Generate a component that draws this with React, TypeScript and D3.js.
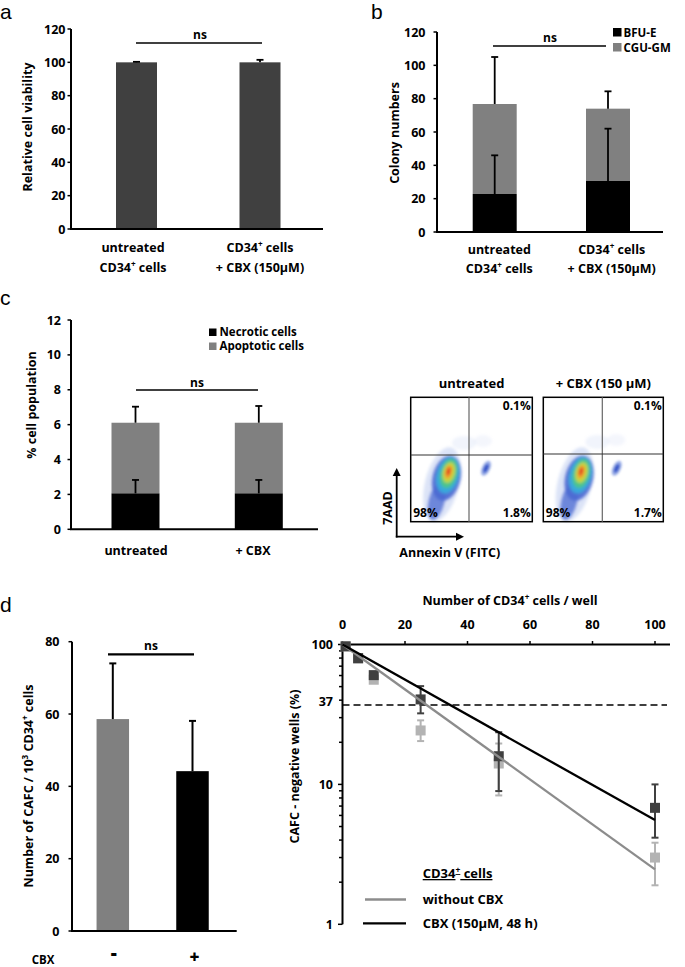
import React from 'react';
import * as d3 from 'd3';

const FONT = "'Open Sans', 'Noto Sans', sans-serif";
const LETTER_FONT = "'Liberation Sans', Arial, sans-serif";

// ---------- Panel a ----------
const aCategories = [["untreated", "CD34^{+} cells"], ["CD34^{+} cells", "+ CBX (150µM)"]];
const aViability = [100, 100];
const aViabilityErr = [0.3, 1.5];
const aTicks = [0, 20, 40, 60, 80, 100, 120];

// ---------- Panel b ----------
const bCategories = [["untreated", "CD34^{+} cells"], ["CD34^{+} cells", "+ CBX (150µM)"]];
const bBFUE = [22.8, 30.6];
const bBFUEErr = [23.2, 31.4];
const bCFUGM = [54.0, 43.4];
const bTotalErr = [28.2, 10.4];
const bTicks = [0, 20, 40, 60, 80, 100, 120];
const bLegend = ["BFU-E", "CGU-GM"];

// ---------- Panel c ----------
const cCategories = ["untreated", "+ CBX"];
const cNecrotic = [2.06, 2.06];
const cNecroticErr = [0.77, 0.77];
const cApoptotic = [4.05, 4.05];
const cTotalErr = [0.92, 0.96];
const cTicks = [0, 2, 4, 6, 8, 10, 12];
const cLegend = ["Necrotic cells", "Apoptotic cells"];

// ---------- Flow plots ----------
const flowTitles = ["untreated", "+ CBX (150 µM)"];
const flowUR = ["0.1%", "0.1%"];
const flowLL = ["98%", "98%"];
const flowLR = ["1.8%", "1.7%"];

// ---------- Panel d left ----------
const dCategories = ["-", "+"];
const dCAFC = [58.6, 44.2];
const dCAFCErr = [15.4, 13.9];
const dTicks = [0, 20, 40, 60, 80];

// ---------- Panel d right ----------
const cellsPerWell = [1, 5, 10, 25, 50, 100];
const negWithout = [97, 79, 56, 24.3, 14.1, 3.0];
const negWithoutLo = [null, null, null, 20.4, 8.34, 1.9];
const negWithoutHi = [null, null, null, 28.7, 19.6, 3.83];
const negCBX = [97, 80, 60.4, 40.5, 15.9, 6.8];
const negCBXLo = [null, null, null, 32.2, 8.96, 4.16];
const negCBXHi = [null, null, null, 50.4, 23.6, 10.0];
const fitX = [0, 100];
const fitWithout = [100, 2.47];
const fitCBX = [100, 5.56];
const topTicks = [0, 20, 40, 60, 80, 100];
const logMajor = [1, 10, 100];
const logMinor = [2, 3, 4, 5, 6, 7, 8, 9, 20, 30, 40, 50, 60, 70, 80, 90];
const logLabels = [1, 10, 37, 100];

const BLACK = '#000';
const DARK = '#404040';
const GRAY = '#808080';
const LIGHT = '#b3b3b3';

const TICK_FS = 12.5;
const TITLE_FS = 12.5;
const CAT_FS = 12.5;

function Rich(props: any) {
  const { text, fs, ...rest } = props;
  const parts: string[] = text.split(/(\^\{[^}]*\})/).filter((s: string) => s.length > 0);
  const out: any[] = [];
  let up = false;
  parts.forEach((p, i) => {
    if (p.startsWith('^{')) {
      out.push(<tspan key={i} fontSize={fs * 0.65} dy={-fs * 0.38}>{p.slice(2, -1)}</tspan>);
      up = true;
    } else {
      out.push(<tspan key={i} dy={up ? fs * 0.38 : undefined}>{p}</tspan>);
      up = false;
    }
  });
  return (
    <text fontSize={fs} fontWeight="bold" style={{ whiteSpace: 'pre' }} {...rest}>
      {out}
    </text>
  );
}

function YAxis({ x, scale, ticks, labelX, tickLen = 3.5, fs = TICK_FS }: any) {
  const [r0, r1] = scale.range();
  return (
    <g>
      <line x1={x} x2={x} y1={r1} y2={r0} stroke={BLACK} strokeWidth={2} />
      {ticks.map((t: number) => (
        <g key={t}>
          <line x1={x - tickLen} x2={x} y1={scale(t)} y2={scale(t)} stroke={BLACK} strokeWidth={1.5} />
          <text x={labelX} y={scale(t)} dy="0.36em" textAnchor="end" fontSize={fs} fontWeight="bold">{t}</text>
        </g>
      ))}
    </g>
  );
}

function ErrBar({ x, y0, y1, color = BLACK, cap = 7, w = 1.8 }: any) {
  return (
    <g stroke={color} strokeWidth={w}>
      <line x1={x} x2={x} y1={y0} y2={y1} />
      <line x1={x - cap / 2} x2={x + cap / 2} y1={y1} y2={y1} />
    </g>
  );
}

function Ns({ x1, x2, y, tx, ty, w = 1.5 }: any) {
  return (
    <g>
      <line x1={x1} x2={x2} y1={y} y2={y} stroke={BLACK} strokeWidth={w} />
      <text x={tx} y={ty} textAnchor="middle" fontSize={12} fontWeight="bold">ns</text>
    </g>
  );
}

function PanelA() {
  const y = d3.scaleLinear().domain([0, 120]).range([229, 29]);
  const x = d3.scalePoint<number>().domain([0, 1]).range([136.5, 260]);
  const bw = 41;
  return (
    <g>
      <text x={0} y={18.5} fontSize={21} fontFamily={LETTER_FONT}>a</text>
      {aViability.map((v, i) => (
        <g key={i}>
          <rect x={x(i)! - bw / 2} y={y(v)} width={bw} height={y(0) - y(v)} fill={DARK} />
          <ErrBar x={x(i)} y0={y(v)} y1={y(v + aViabilityErr[i])} />
        </g>
      ))}
      <YAxis x={71} scale={y} ticks={aTicks} labelX={65.5} />
      <line x1={70} x2={323} y1={229} y2={229} stroke={BLACK} strokeWidth={2} />
      <Ns x1={136} x2={262} y={43} tx={200} ty={39} />
      <text transform="translate(32,127) rotate(-90)" textAnchor="middle" fontSize={TITLE_FS} fontWeight="bold">Relative cell viability</text>
      {aCategories.map((lines, i) =>
        lines.map((l, j) => (
          <Rich key={i + '-' + j} text={l} fs={CAT_FS} x={i === 0 ? 133 : 260} y={252 + j * 19.5} textAnchor="middle" />
        ))
      )}
    </g>
  );
}

function PanelB() {
  const y = d3.scaleLinear().domain([0, 120]).range([232, 32]);
  const x = d3.scalePoint<number>().domain([0, 1]).range([494.7, 608]);
  const bw = 44;
  return (
    <g>
      <text x={371} y={18.5} fontSize={21} fontFamily={LETTER_FONT}>b</text>
      {bBFUE.map((v, i) => {
        const tot = v + bCFUGM[i];
        return (
          <g key={i}>
            <rect x={x(i)! - bw / 2} y={y(tot)} width={bw} height={y(v) - y(tot)} fill={GRAY} />
            <rect x={x(i)! - bw / 2} y={y(v)} width={bw} height={y(0) - y(v)} fill={BLACK} />
            <ErrBar x={x(i)} y0={y(tot)} y1={y(tot + bTotalErr[i])} />
            <ErrBar x={x(i)} y0={y(v)} y1={y(v + bBFUEErr[i])} />
          </g>
        );
      })}
      <YAxis x={437} scale={y} ticks={bTicks} labelX={425.5} />
      <line x1={436} x2={663} y1={232} y2={232} stroke={BLACK} strokeWidth={2} />
      <Ns x1={493} x2={606} y={46} tx={550} ty={41.5} />
      <text transform="translate(398.5,133) rotate(-90)" textAnchor="middle" fontSize={TITLE_FS} fontWeight="bold">Colony numbers</text>
      {bLegend.map((l, i) => (
        <g key={l}>
          <rect x={613} y={28 + i * 15} width={8.5} height={8.5} fill={i === 0 ? BLACK : GRAY} />
          <text x={623.5} y={36.5 + i * 15} fontSize={11.5} fontWeight="bold">{l}</text>
        </g>
      ))}
      {bCategories.map((lines, i) =>
        lines.map((l, j) => (
          <Rich key={i + '-' + j} text={l} fs={CAT_FS} x={i === 0 ? 499.3 : 611.7} y={254 + j * 19} textAnchor="middle" />
        ))
      )}
    </g>
  );
}

function PanelC() {
  const y = d3.scaleLinear().domain([0, 12]).range([529.3, 320]);
  const x = d3.scalePoint<number>().domain([0, 1]).range([135.5, 258.8]);
  const bw = 48;
  return (
    <g>
      <text x={0} y={305} fontSize={21} fontFamily={LETTER_FONT}>c</text>
      {cNecrotic.map((v, i) => {
        const tot = v + cApoptotic[i];
        return (
          <g key={i}>
            <rect x={x(i)! - bw / 2} y={y(tot)} width={bw} height={y(v) - y(tot)} fill={GRAY} />
            <rect x={x(i)! - bw / 2} y={y(v)} width={bw} height={y(0) - y(v)} fill={BLACK} />
            <ErrBar x={x(i)} y0={y(tot)} y1={y(tot + cTotalErr[i])} />
            <ErrBar x={x(i)} y0={y(v)} y1={y(v + cNecroticErr[i])} />
          </g>
        );
      })}
      <YAxis x={71} scale={y} ticks={cTicks} labelX={61} />
      <line x1={70} x2={318} y1={529.3} y2={529.3} stroke={BLACK} strokeWidth={2} />
      <Ns x1={136} x2={258} y={390} tx={197} ty={386.5} />
      <text transform="translate(35.5,405) rotate(-90)" textAnchor="middle" fontSize={TITLE_FS} fontWeight="bold">% cell population</text>
      {cLegend.map((l, i) => (
        <g key={l}>
          <rect x={209} y={328.5 + i * 14} width={7.5} height={7.5} fill={i === 0 ? BLACK : GRAY} />
          <text x={219.5} y={336 + i * 14} fontSize={11.5} fontWeight="bold">{l}</text>
        </g>
      ))}
      {cCategories.map((l, i) => (
        <text key={l} x={i === 0 ? 136 : 253} y={555} textAnchor="middle" fontSize={CAT_FS} fontWeight="bold">{l}</text>
      ))}
    </g>
  );
}

function Population({ cx, cy, rot }: any) {
  return (
    <g transform={`translate(${cx},${cy}) rotate(${rot})`}>
      <g filter="url(#fblur)">
        <ellipse cx={-3} cy={12} rx={17} ry={38} fill="#8aa4e6" opacity={0.3} />
        <ellipse cx={0} cy={5} rx={14} ry={23} fill="#3f5fcf" opacity={0.85} />
        <ellipse cx={-4} cy={30} rx={8} ry={19} fill="#4a68d2" opacity={0.75} />
        <ellipse cx={0.5} cy={2} rx={11} ry={18.5} fill="#38a8dc" />
        <ellipse cx={1} cy={0} rx={8.5} ry={15} fill="#4cc48c" />
        <ellipse cx={1} cy={-1} rx={6} ry={10.5} fill="#c4d83c" />
        <ellipse cx={0.5} cy={-1.5} rx={3.6} ry={7} fill="#f0a030" />
        <ellipse cx={0.3} cy={-2} rx={1.8} ry={4} fill="#e03a20" />
      </g>
    </g>
  );
}

function FlowBox({ x0, y0, w, h, qx, qy, i }: any) {
  return (
    <g>
      <g filter="url(#fblur)">
        <ellipse cx={x0 + qx - 5} cy={y0 + qy - 12} rx={12} ry={7} fill="#b4c4ee" opacity={0.18} />
        <ellipse cx={x0 + qx + 14} cy={y0 + qy - 14} rx={9} ry={6} fill="#b4c4ee" opacity={0.15} />
      </g>
      <Population cx={x0 + 37} cy={y0 + 76} rot={14} />
      <g filter="url(#fblur2)" transform={`translate(${x0 + (i === 0 ? 75.3 : 73.4)},${y0 + 71}) rotate(25)`}>
        <ellipse cx={0} cy={0} rx={4} ry={8} fill="#7d97e0" opacity={0.8} />
        <ellipse cx={0} cy={0} rx={2} ry={4.5} fill="#3454c8" />
      </g>
      <rect x={x0} y={y0} width={w} height={h} fill="none" stroke={BLACK} strokeWidth={1.5} />
      <line x1={x0 + qx} x2={x0 + qx} y1={y0} y2={y0 + h} stroke="#666" strokeWidth={1.2} />
      <line x1={x0} x2={x0 + w} y1={y0 + qy} y2={y0 + qy} stroke="#333" strokeWidth={1.2} />
      <text x={x0 + w - 1.5} y={y0 + 13} textAnchor="end" fontSize={12} fontWeight="bold">{flowUR[i]}</text>
      <text x={x0 + 2.5} y={y0 + h - 5} fontSize={12} fontWeight="bold">{flowLL[i]}</text>
      <text x={x0 + w - 1.5} y={y0 + h - 5} textAnchor="end" fontSize={12} fontWeight="bold">{flowLR[i]}</text>
      <text x={x0 + w / 2} y={387.5} textAnchor="middle" fontSize={13} fontWeight="bold">{flowTitles[i]}</text>
    </g>
  );
}

function FlowPanel() {
  return (
    <g>
      <FlowBox x0={410.7} y0={397.3} w={121.6} h={124.4} qx={58.3} qy={57.7} i={0} />
      <FlowBox x0={543.3} y0={397.3} w={120} h={124.4} qx={59} qy={56.7} i={1} />
      <line x1={396.7} x2={396.7} y1={537.5} y2={475} stroke={BLACK} strokeWidth={1.8} />
      <path d="M392.7,476 L396.7,468 L400.7,476 Z" fill={BLACK} />
      <line x1={395.8} x2={457} y1={536.7} y2={536.7} stroke={BLACK} strokeWidth={1.8} />
      <path d="M456,532.7 L464,536.7 L456,540.7 Z" fill={BLACK} />
      <text transform="translate(391.5,508) rotate(-90)" textAnchor="middle" fontSize={12.5} fontWeight="bold">7AAD</text>
      <text x={399.3} y={556.5} fontSize={12.5} fontWeight="bold">Annexin V (FITC)</text>
    </g>
  );
}

function PanelDLeft() {
  const y = d3.scaleLinear().domain([0, 80]).range([931, 641.7]);
  const x = d3.scalePoint<number>().domain([0, 1]).range([112.8, 192.5]);
  const bw = 32.5;
  return (
    <g>
      <text x={0} y={611.5} fontSize={21} fontFamily={LETTER_FONT}>d</text>
      {dCAFC.map((v, i) => (
        <g key={i}>
          <rect x={x(i)! - bw / 2} y={y(v)} width={bw} height={y(0) - y(v)} fill={i === 0 ? GRAY : BLACK} />
          <ErrBar x={x(i)} y0={y(v)} y1={y(v + dCAFCErr[i])} cap={7} w={2} />
        </g>
      ))}
      <YAxis x={72} scale={y} ticks={dTicks} labelX={59.5} tickLen={3.5} />
      <line x1={71} x2={236.7} y1={931} y2={931} stroke={BLACK} strokeWidth={2} />
      <Ns x1={108} x2={194} y={654.3} tx={151} ty={650} w={2.2} />
      <Rich text="Number of CAFC / 10^{3} CD34^{+} cells" fs={12.5} transform="translate(32.5,786) rotate(-90)" textAnchor="middle" />
      <text x={43} y={964} textAnchor="middle" fontSize={11.5} fontWeight="bold">CBX</text>
      <text x={x(0)! + 1} y={960} textAnchor="middle" fontSize={19} fontWeight="800">{dCategories[0]}</text>
      <text x={x(1)! + 2} y={962.5} textAnchor="middle" fontSize={17} fontWeight="800">{dCategories[1]}</text>
    </g>
  );
}

function PanelDRight() {
  const x = d3.scaleLinear().domain([0, 100]).range([342.5, 655]);
  const y = d3.scaleLog().domain([1, 100]).range([924.3, 644.5]);
  const ax = 342.5;
  const line = d3.line<number>().x((_, i) => x(fitX[i])).y((d) => y(d));
  const sq = 10;
  return (
    <g>
      <Rich text="Number of CD34^{+} cells / well" fs={12.5} x={510} y={604.5} textAnchor="middle" />
      <line x1={ax - 1} x2={670} y1={644.5} y2={644.5} stroke={BLACK} strokeWidth={2} />
      {topTicks.map((t) => (
        <g key={t}>
          <line x1={x(t)} x2={x(t)} y1={644.5} y2={641} stroke={BLACK} strokeWidth={1.5} />
          <text x={x(t)} y={628.5} textAnchor="middle" fontSize={TICK_FS} fontWeight="bold">{t}</text>
        </g>
      ))}
      <line x1={ax} x2={ax} y1={644} y2={924.3} stroke={BLACK} strokeWidth={2} />
      {logMajor.map((t) => (
        <line key={'M' + t} x1={ax - 4.5} x2={ax} y1={y(t)} y2={y(t)} stroke={BLACK} strokeWidth={1.5} />
      ))}
      {logMinor.map((t) => (
        <line key={'m' + t} x1={ax - 3.5} x2={ax} y1={y(t)} y2={y(t)} stroke={BLACK} strokeWidth={1.5} />
      ))}
      {logLabels.map((t) => (
        <text key={'l' + t} x={333} y={y(t) - (t === 37 ? 3.5 : 0)} dy="0.36em" textAnchor="end" fontSize={TICK_FS} fontWeight="bold">{t}</text>
      ))}
      <line x1={ax} x2={667} y1={y(37)} y2={y(37)} stroke={BLACK} strokeWidth={1.5} strokeDasharray="7,4" />
      <text transform="translate(298.5,766.5) rotate(-90)" textAnchor="middle" fontSize={TITLE_FS} fontWeight="bold">CAFC - negative wells (%)</text>
      {cellsPerWell.map((c, i) => (
        <g key={'w' + i}>
          {negWithoutLo[i] != null && (
            <g stroke={LIGHT} strokeWidth={2}>
              <line x1={x(c)} x2={x(c)} y1={y(negWithoutLo[i]!)} y2={y(negWithoutHi[i]!)} />
              <line x1={x(c) - 3.5} x2={x(c) + 3.5} y1={y(negWithoutLo[i]!)} y2={y(negWithoutLo[i]!)} />
              <line x1={x(c) - 3.5} x2={x(c) + 3.5} y1={y(negWithoutHi[i]!)} y2={y(negWithoutHi[i]!)} />
            </g>
          )}
          <rect x={x(c) - sq / 2} y={y(negWithout[i]) - sq / 2} width={sq} height={sq} fill={LIGHT} />
        </g>
      ))}
      {cellsPerWell.map((c, i) => (
        <g key={'c' + i}>
          {negCBXLo[i] != null && (
            <g stroke={DARK} strokeWidth={2}>
              <line x1={x(c)} x2={x(c)} y1={y(negCBXLo[i]!)} y2={y(negCBXHi[i]!)} />
              <line x1={x(c) - 3.5} x2={x(c) + 3.5} y1={y(negCBXLo[i]!)} y2={y(negCBXLo[i]!)} />
              <line x1={x(c) - 3.5} x2={x(c) + 3.5} y1={y(negCBXHi[i]!)} y2={y(negCBXHi[i]!)} />
            </g>
          )}
          <rect x={x(c) - sq / 2} y={y(negCBX[i]) - sq / 2} width={sq} height={sq} fill={DARK} />
        </g>
      ))}
      <path d={line(fitWithout) || ''} fill="none" stroke="#8c8c8c" strokeWidth={2.3} />
      <path d={line(fitCBX) || ''} fill="none" stroke={BLACK} strokeWidth={2.3} />
      <Rich text="CD34^{+} cells" fs={13} x={422.7} y={878} textDecoration="underline" />
      <line x1={365} x2={406} y1={899.5} y2={899.5} stroke="#8c8c8c" strokeWidth={2.3} />
      <text x={422.7} y={903.5} fontSize={13} fontWeight="bold">without CBX</text>
      <line x1={363} x2={406} y1={923.3} y2={923.3} stroke={BLACK} strokeWidth={2.3} />
      <text x={422.7} y={927.5} fontSize={13} fontWeight="bold">CBX (150µM, 48 h)</text>
    </g>
  );
}

export default function App() {
  return (
    <div style={{ position: 'absolute', left: 0, top: 0 }}>
      <svg width={685} height={967} viewBox="0 0 685 967" style={{ display: 'block', background: '#fff' }} fontFamily={FONT}>
        <defs>
          <filter id="fblur" x="-50%" y="-50%" width="200%" height="200%">
            <feGaussianBlur stdDeviation="1.6" />
          </filter>
          <filter id="fblur2" x="-50%" y="-50%" width="200%" height="200%">
            <feGaussianBlur stdDeviation="0.9" />
          </filter>
        </defs>
        <rect x={0} y={0} width={685} height={967} fill="#fff" />
        <PanelA />
        <PanelB />
        <PanelC />
        <FlowPanel />
        <PanelDLeft />
        <PanelDRight />
      </svg>
    </div>
  );
}
